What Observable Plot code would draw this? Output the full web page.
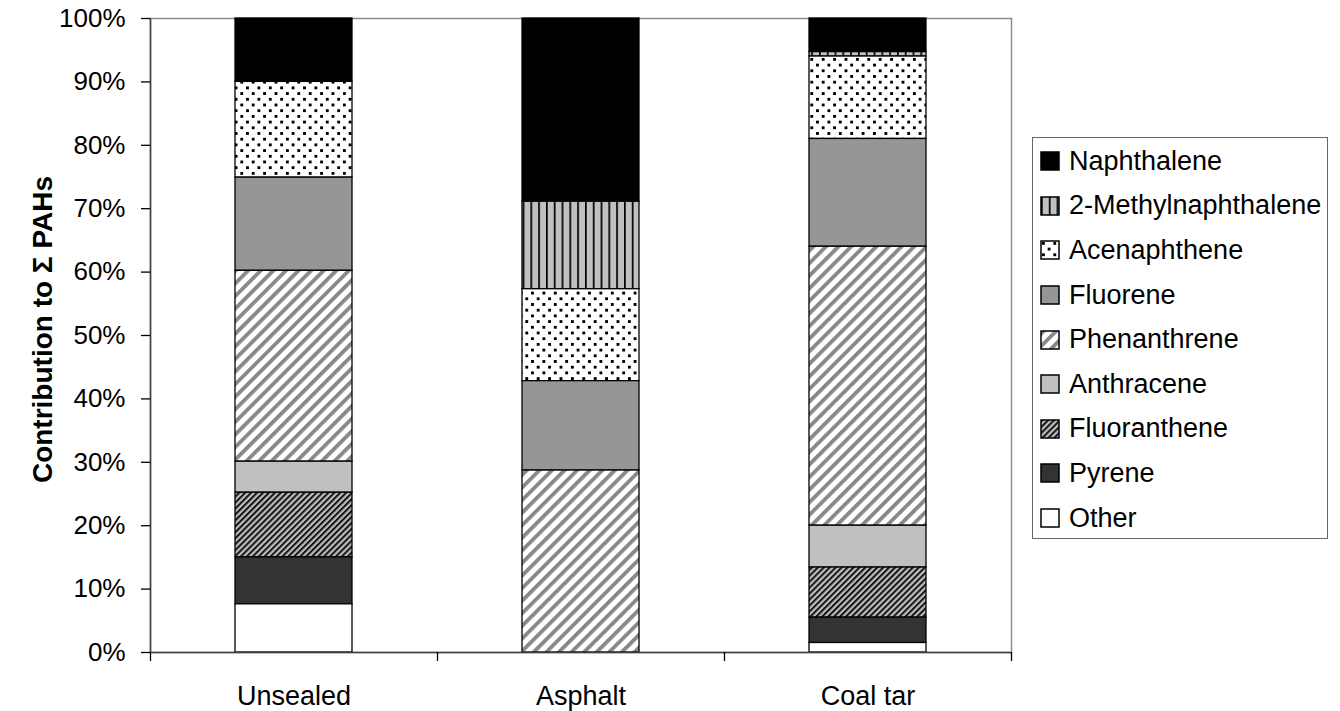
<!DOCTYPE html>
<html>
<head>
<meta charset="utf-8">
<script src="https://cdn.jsdelivr.net/npm/d3@7"></script>
<script src="https://cdn.jsdelivr.net/npm/@observablehq/plot@0.6"></script>
<style>
  html, body { margin: 0; padding: 0; background: #fff; }
  #chart { position: relative; width: 1340px; height: 711px; font-family: "Liberation Sans", Arial, sans-serif; }
  #legend { position: absolute; left: 1032px; top: 137px; width: 296px; height: 402px; border: 1.5px solid #666; box-sizing: border-box; background: #fff; }
  div.leg-swatches { font-family: "Liberation Sans", Arial, sans-serif; font-size: 27px; margin: 0; padding: 1px 0 0 8px; color: #000; }
  div.leg-swatches .leg-swatch { height: 44.6px; padding: 0; }
  div.leg-swatches .leg-swatch > svg { margin-right: 10px; }
  .leg-swatch rect { stroke: #000; stroke-width: 1.5px; }
</style>
</head>
<body>
<!-- Hatch and dot fills shared by the bars and the legend swatches -->
<svg width="0" height="0" style="position:absolute">
  <defs>
    <pattern id="fill-methyl" patternUnits="userSpaceOnUse" width="7.8" height="8">
      <rect width="7.8" height="8" fill="#c0c0c0"/>
      <rect width="1.7" height="8" fill="#000"/>
    </pattern>
    <pattern id="fill-dots" patternUnits="userSpaceOnUse" width="11.4" height="11.4">
      <rect width="11.4" height="11.4" fill="#fff"/>
      <rect x="1" y="1" width="2.4" height="2.4" fill="#000" shape-rendering="crispEdges"/>
      <rect x="6.7" y="6.7" width="2.4" height="2.4" fill="#000" shape-rendering="crispEdges"/>
    </pattern>
    <pattern id="fill-phen" patternUnits="userSpaceOnUse" width="8.9" height="8.9" patternTransform="rotate(45)">
      <rect width="8.9" height="8.9" fill="#fff"/>
      <rect width="3.8" height="8.9" fill="#888888"/>
    </pattern>
    <pattern id="fill-fluoranth" patternUnits="userSpaceOnUse" width="4.2" height="4.2" patternTransform="rotate(45)">
      <rect width="4.2" height="4.2" fill="#bdbdbd"/>
      <rect width="2" height="4.2" fill="#141414"/>
    </pattern>
  </defs>
</svg>
<div id="chart"><div id="legend"></div></div>
<script>
// Sample types along the x axis
const samples = ["Unsealed", "Asphalt", "Coal tar"];

// Compounds, top of the legend first
const compounds = [
  "Naphthalene", "2-Methylnaphthalene", "Acenaphthene", "Fluorene",
  "Phenanthrene", "Anthracene", "Fluoranthene", "Pyrene", "Other"
];

// Percent contribution of each compound (same order as compounds)
const unsealed = [10.0, 0.0, 15.1, 14.7, 30.1, 4.9, 10.2, 7.4, 7.6];
const asphalt  = [28.9, 13.8, 14.5, 14.1, 28.7, 0.0, 0.0, 0.0, 0.0];
const coalTar  = [5.3, 0.7, 13.0, 17.0, 44.0, 6.6, 7.9, 4.0, 1.5];

// Fill for each compound: solid greys or the patterns defined above
const fills = [
  "#000000", "url(#fill-methyl)", "url(#fill-dots)", "#969696",
  "url(#fill-phen)", "#c0c0c0", "url(#fill-fluoranth)", "#333333", "#ffffff"
];

const yTicks = [0, 10, 20, 30, 40, 50, 60, 70, 80, 90, 100];
const yLabel = "Contribution to \u03A3 PAHs";

const series = [unsealed, asphalt, coalTar];
const rows = samples.flatMap((sample, i) =>
  compounds.map((compound, j) => ({sample, compound, value: series[i][j]}))
);

// Stack from the bottom: Other first, Naphthalene last
const stackOrder = compounds.slice().reverse();

const W = 1340, H = 711, mL = 150, mR = 329, mT = 18, mB = 59;
const step = (W - mL - mR) / samples.length;
const font = "'Liberation Sans', Arial, sans-serif";

const plot = Plot.plot({
  width: W,
  height: H,
  marginLeft: mL,
  marginRight: mR,
  marginTop: mT,
  marginBottom: mB,
  style: {fontFamily: font, fontSize: "26px", color: "#000", background: "#fff", overflow: "visible"},
  x: {domain: samples, paddingInner: 0.592, paddingOuter: 0.296, label: null},
  y: {domain: [0, 100], label: null},
  color: {domain: compounds, range: fills},
  marks: [
    Plot.frame({stroke: "#8c8c8c", strokeWidth: 1.5}),
    Plot.barY(rows, Plot.stackY({
      x: "sample",
      y: "value",
      fill: "compound",
      order: stackOrder,
      stroke: "#000",
      strokeWidth: 1.3
    })),
    Plot.ruleY([0], {stroke: "#404040", strokeWidth: 1.5}),
    Plot.ruleX([samples[0]], {dx: -step / 2, stroke: "#404040", strokeWidth: 1.5}),
    Plot.axisY({ticks: yTicks, tickSize: 9, tickPadding: 16, tickFormat: d => d + "%", fontSize: 26, label: null, strokeWidth: 1.3}),
    Plot.axisX({tickSize: 0, tickPadding: 33, fontSize: 27, label: null}),
    // Category dividers on the x axis sit between the bars
    Plot.axisX(samples, {tickSize: 9, dx: -step / 2, tickFormat: () => "", label: null, strokeWidth: 1.3}),
    Plot.axisX([samples[samples.length - 1]], {tickSize: 9, dx: step / 2, tickFormat: () => "", label: null, strokeWidth: 1.3}),
    Plot.text([yLabel], {frameAnchor: "left", textAnchor: "middle", rotate: -90, dx: -107, dy: -6, fontWeight: "bold", fontSize: 28, fill: "#000"})
  ]
});

const chart = document.getElementById("chart");
chart.insertBefore(plot, chart.firstChild);

const legend = plot.legend("color", {columns: 1, swatchSize: 18, className: "leg"});
document.getElementById("legend").appendChild(legend);
</script>
</body>
</html>
